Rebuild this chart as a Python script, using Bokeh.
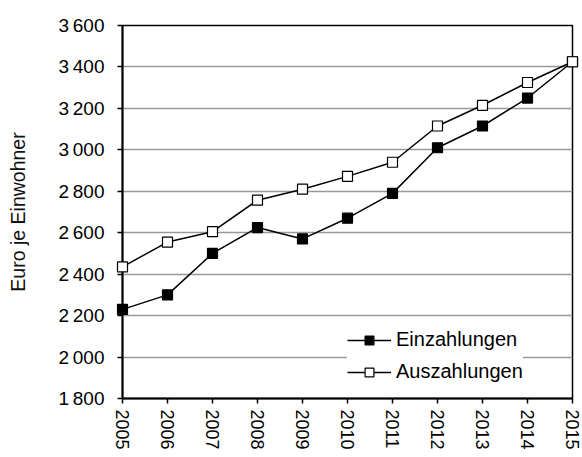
import math
from bokeh.plotting import figure
from bokeh.models import Range1d, FixedTicker, Legend, LegendItem, ColumnDataSource
from bokeh.embed import file_html
from bokeh.resources import INLINE

years = [2005, 2006, 2007, 2008, 2009, 2010, 2011, 2012, 2013, 2014, 2015]
einzahlungen = [2230, 2300, 2500, 2625, 2570, 2670, 2790, 3010, 3115, 3250, 3425]
auszahlungen = [2435, 2555, 2605, 2757, 2810, 2872, 2940, 3115, 3215, 3325, 3425]
y_ticks = [1800, 2000, 2200, 2400, 2600, 2800, 3000, 3200, 3400, 3600]

FONT = "Liberation Sans"

p = figure(width=582, height=457, output_backend="svg", toolbar_location=None,
           x_range=Range1d(2005, 2015), y_range=Range1d(1800, 3600),
           min_border_left=122, min_border_right=10, min_border_top=25, min_border_bottom=59)

p.background_fill_color = "white"
p.border_fill_color = "white"
p.outline_line_color = "black"
p.outline_line_width = 1.5

p.xgrid.grid_line_color = None
p.ygrid.grid_line_color = "#999999"
p.ygrid.grid_line_width = 1.5

p.xaxis.ticker = FixedTicker(ticks=years)
p.yaxis.ticker = FixedTicker(ticks=y_ticks)
p.yaxis.major_label_overrides = {t: f"{t // 1000}\u2009{t % 1000:03d}" for t in y_ticks}
p.xaxis.major_label_orientation = -math.pi / 2
p.xaxis.minor_tick_line_color = None
p.yaxis.minor_tick_line_color = None
for ax in (p.xaxis, p.yaxis):
    ax.axis_line_color = "black"
    ax.axis_line_width = 2
    ax.major_tick_line_color = "black"
    ax.major_tick_line_width = 1.5
    ax.major_tick_in = 0
    ax.major_tick_out = 5
    ax.major_label_text_font = FONT
    ax.major_label_text_color = "black"
p.yaxis.major_label_text_font_size = "19px"
p.xaxis.major_label_text_font_size = "18px"
p.yaxis.major_label_standoff = 13
p.xaxis.major_label_standoff = 6

p.yaxis.axis_label = "Euro je Einwohner"
p.yaxis.axis_label_text_font = FONT
p.yaxis.axis_label_text_font_size = "19.5px"
p.yaxis.axis_label_text_font_style = "normal"
p.yaxis.axis_label_text_color = "#111111"
p.yaxis.axis_label_standoff = 26

src = ColumnDataSource(data=dict(x=years, ein=einzahlungen, aus=auszahlungen))

l1 = p.line("x", "ein", source=src, line_color="black", line_width=1.5)
m1 = p.scatter("x", "ein", source=src, marker="square", size=10,
               fill_color="black", line_color="black", line_width=1.2, level="overlay")
l2 = p.line("x", "aus", source=src, line_color="black", line_width=1.5)
m2 = p.scatter("x", "aus", source=src, marker="square", size=10,
               fill_color="white", line_color="black", line_width=1.2, level="overlay")

legend = Legend(items=[LegendItem(label="Einzahlungen", renderers=[l1, m1]),
                       LegendItem(label="Auszahlungen", renderers=[l2, m2])],
                location=(225, 15))
legend.background_fill_color = "white"
legend.background_fill_alpha = 1
legend.border_line_color = None
legend.label_text_font = FONT
legend.label_text_font_size = "20px"
legend.label_text_color = "black"
legend.glyph_width = 44
legend.glyph_height = 22
legend.label_height = 22
legend.spacing = 9
legend.padding = 10
legend.margin = 0
legend.label_standoff = 5
p.add_layout(legend, "center")

open("out.html", "w").write(file_html(p, INLINE))
